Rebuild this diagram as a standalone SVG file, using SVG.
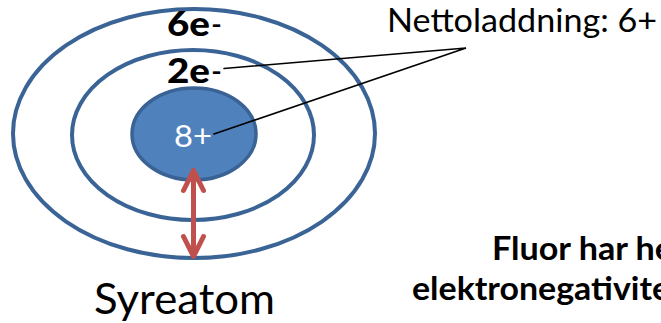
<svg xmlns="http://www.w3.org/2000/svg" width="661" height="323" viewBox="0 0 661 323">
<style>
.ring{fill:none;stroke:#3B6496;stroke-width:4}
.nuc{fill:#4F81BD;stroke:#3A6294;stroke-width:3.5}
.lead{stroke:#000;stroke-width:1.6;fill:none;stroke-linecap:round}
.arr{stroke:#C0504D;stroke-width:5;fill:none;stroke-linecap:round;stroke-linejoin:round}
.t{font-family:Lato,"Open Sans","Liberation Sans",sans-serif;fill:#000}
.b{font-weight:900}
</style>
<rect width="661" height="323" fill="#fff"/>
<g id="outer-shell"><ellipse class="ring" cx="194" cy="133.5" rx="181" ry="124.5"/></g>
<g id="inner-shell"><ellipse class="ring" cx="193" cy="135" rx="121" ry="85"/></g>
<g id="nucleus"><ellipse class="nuc" cx="194" cy="134" rx="62" ry="46"/>
<text class="t" x="174" y="147" font-size="30" style="fill:#fff" textLength="38" lengthAdjust="spacingAndGlyphs">8+</text></g>
<g id="label-6e"><text class="t b" x="167" y="35.5" font-size="35" textLength="43" lengthAdjust="spacingAndGlyphs">6e</text><text class="t" x="211" y="35.5" font-size="35" textLength="11" lengthAdjust="spacingAndGlyphs">-</text></g>
<g id="label-2e"><text class="t b" x="167" y="82.5" font-size="35" textLength="43" lengthAdjust="spacingAndGlyphs">2e</text><text class="t" x="211" y="82.5" font-size="35" textLength="11" lengthAdjust="spacingAndGlyphs">-</text></g>
<g id="label-netto"><text class="t" x="387" y="32" font-size="32" textLength="270" lengthAdjust="spacingAndGlyphs">Nettoladdning: 6+</text></g>
<g id="label-syreatom"><text class="t" x="94" y="314" font-size="42" textLength="181" lengthAdjust="spacingAndGlyphs">Syreatom</text></g>
<g id="label-fluor"><text class="t" x="492" y="260" font-size="32" font-weight="bold" textLength="181" lengthAdjust="spacingAndGlyphs">Fluor har he</text>
<text class="t" x="412" y="300" font-size="32" font-weight="bold" textLength="258" lengthAdjust="spacingAndGlyphs">elektronegativite</text></g>
<g id="connectors">
<polyline class="lead" points="224,68.5 466,48 214,134"/>
<g id="radius-arrow">
<line class="arr" x1="193.5" y1="172" x2="193.5" y2="255"/>
<polyline class="arr" points="183.5,190.5 193.5,170.5 203.5,190.5"/>
<polyline class="arr" points="183.5,236.5 193.5,256.5 203.5,236.5"/>
</g>
</g>
</svg>
